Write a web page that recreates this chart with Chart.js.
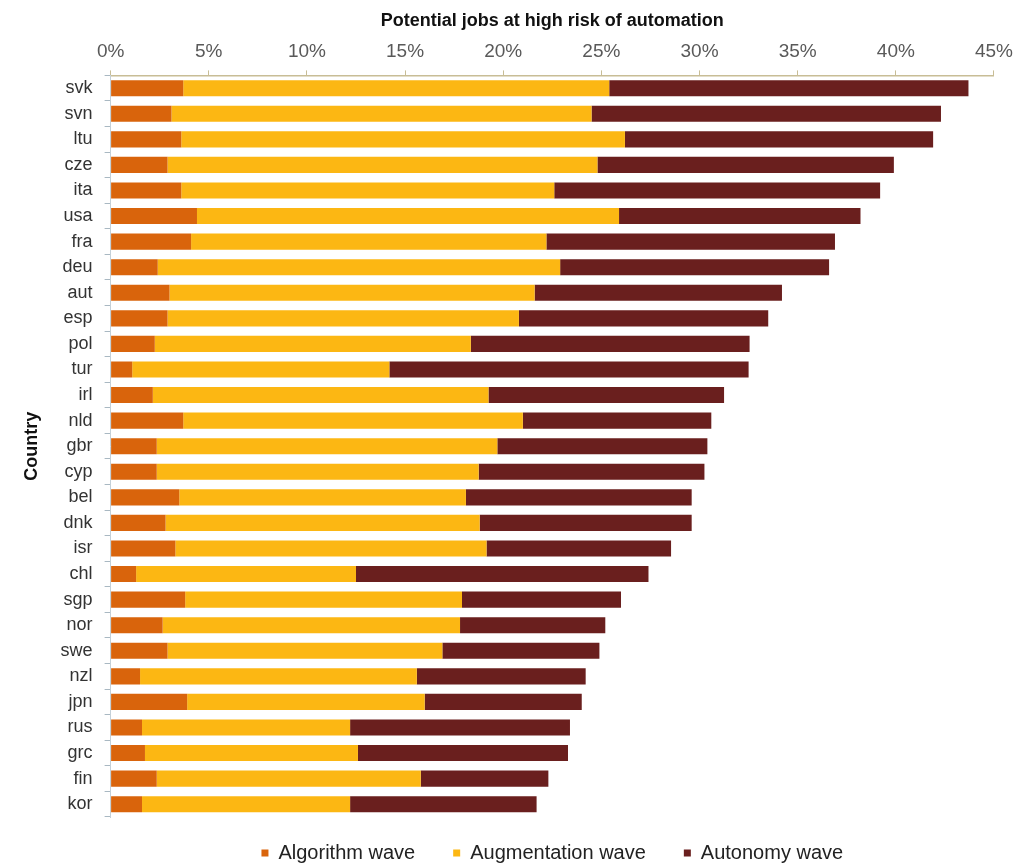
<!DOCTYPE html>
<html>
<head>
<meta charset="utf-8">
<script src="https://cdn.jsdelivr.net/npm/chart.js@4/dist/chart.umd.min.js"></script>
<style>
  html, body { margin: 0; padding: 0; background: #fff; }
  #wrap { width: 1020px; height: 865px; position: relative; }
</style>
</head>
<body>
<div id="wrap"><canvas id="chart"></canvas></div>
<script>
// Country codes, top to bottom
const countries = ['svk', 'svn', 'ltu', 'cze', 'ita', 'usa', 'fra', 'deu', 'aut', 'esp',
    'pol', 'tur', 'irl', 'nld', 'gbr', 'cyp', 'bel', 'dnk', 'isr', 'chl',
    'sgp', 'nor', 'swe', 'nzl', 'jpn', 'rus', 'grc', 'fin', 'kor'];

// Share of jobs (%) per wave
const algorithmWave = [3.7, 3.1, 3.6, 2.9, 3.6, 4.4, 4.1, 2.4, 3.0, 2.9,
    2.25, 1.1, 2.15, 3.7, 2.35, 2.35, 3.5, 2.8, 3.3, 1.3,
    3.8, 2.65, 2.9, 1.5, 3.9, 1.6, 1.75, 2.35, 1.6];
const augmentationWave = [21.7, 21.4, 22.6, 21.9, 19.0, 21.5, 18.1, 20.5, 18.6, 17.9,
    16.1, 13.1, 17.1, 17.3, 17.35, 16.4, 14.6, 16.0, 15.85, 11.2,
    14.1, 15.15, 14.0, 14.1, 12.1, 10.6, 10.85, 13.45, 10.6];
const autonomyWave = [18.3, 17.8, 15.7, 15.1, 16.6, 12.3, 14.7, 13.7, 12.6, 12.7,
    14.2, 18.3, 12.0, 9.6, 10.7, 11.5, 11.5, 10.8, 9.4, 14.9,
    8.1, 7.4, 8.0, 8.6, 8.0, 11.2, 10.7, 6.5, 9.5];

const xTicks = [0, 5, 10, 15, 20, 25, 30, 35, 40, 45];

const fontFamily = '"Liberation Sans", Arial, sans-serif';

function makeSet(label, data, color) {
    return {
        label: label,
        data: data,
        backgroundColor: color,
        borderWidth: 0,
        barPercentage: 0.63,
        categoryPercentage: 1.0
    };
}

// keep the legend strip short so the plot reaches down like the original,
// then lift its top a bit (its label padding also sets the gap between items)
const legendPlace = {
    id: 'legendPlace',
    beforeInit(chart) {
        const fit = chart.legend.fit;
        chart.legend.fit = function () {
            fit.bind(chart.legend)();
            this.height = 48;
        };
    },
    afterLayout(chart) {
        chart.legend.top -= 12;
        chart.legend.bottom = chart.height;
    }
};

new Chart(document.getElementById('chart'), {
    type: 'bar',
    data: {
        labels: countries,
        datasets: [
            makeSet('Algorithm wave', algorithmWave, '#d9640c'),
            makeSet('Augmentation wave', augmentationWave, '#fcb713'),
            makeSet('Autonomy wave', autonomyWave, '#6a1f1e')
        ]
    },
    plugins: [legendPlace],
    options: {
        indexAxis: 'y',
        responsive: true,
        maintainAspectRatio: false,
        animation: false,
        layout: { padding: { top: 10, right: 23, bottom: 0, left: 21 } },
        plugins: {
            tooltip: { enabled: false },
            legend: {
                position: 'bottom',
                fullSize: false,
                labels: {
                    usePointStyle: true,
                    pointStyle: 'rect',
                    boxWidth: 7,
                    boxHeight: 7,
                    padding: 38,
                    color: '#222',
                    font: { family: fontFamily, size: 20 }
                }
            }
        },
        scales: {
            x: {
                position: 'top',
                stacked: true,
                min: 0,
                max: 45,
                afterBuildTicks: axis => { axis.ticks = xTicks.map(v => ({ value: v })); },
                ticks: {
                    callback: v => v + '%',
                    color: '#595959',
                    padding: 7,
                    font: { family: fontFamily, size: 19 }
                },
                grid: { drawOnChartArea: false, tickLength: 5, color: '#c8bd96' },
                border: { color: '#c8bd96', width: 1.5 },
                title: {
                    display: true,
                    text: 'Potential jobs at high risk of automation',
                    color: '#111',
                    padding: { top: 0, bottom: 2 },
                    font: { family: fontFamily, size: 18, weight: 'bold' }
                }
            },
            y: {
                stacked: true,
                ticks: {
                    color: '#333',
                    padding: 12,
                    font: { family: fontFamily, size: 18 }
                },
                grid: { drawOnChartArea: false, offset: true, tickLength: 6, color: '#a9b8c2' },
                border: { color: '#c4d0d8', width: 1 },
                title: {
                    display: true,
                    text: 'Country',
                    color: '#111',
                    padding: { top: 0, bottom: 6 },
                    font: { family: fontFamily, size: 18, weight: 'bold' }
                }
            }
        }
    }
});
</script>
</body>
</html>
